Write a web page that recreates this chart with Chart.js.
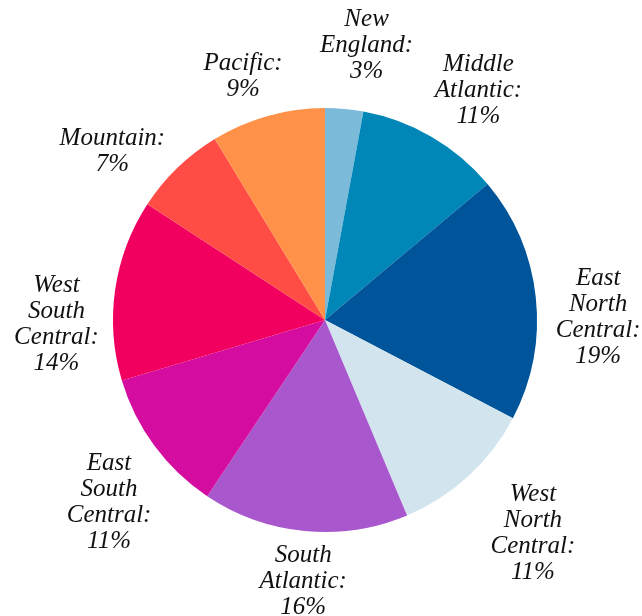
<!DOCTYPE html>
<html>
<head>
<meta charset="utf-8">
<script src="https://cdn.jsdelivr.net/npm/chart.js@4/dist/chart.umd.min.js"></script>
<style>
  html, body { margin: 0; padding: 0; background: #fff; }
  #wrap { width: 642px; height: 616px; }
</style>
</head>
<body>
<div id="wrap"><canvas id="pieChart" width="642" height="616"></canvas></div>
<script>
// census divisions, clockwise from 12 o'clock
const divisions = ["New England", "Middle Atlantic", "East North Central", "West North Central",
  "South Atlantic", "East South Central", "West South Central", "Mountain", "Pacific"];
const shares = [2.9, 11.0, 18.75, 11.0, 15.7, 11.0, 13.8, 7.1, 8.7];
const sliceColors = ["#7bbad8", "#0087b7", "#005499", "#d2e5ef", "#a957cd",
  "#d40ca0", "#f20060", "#ff4c44", "#ff9149"];

// hand-tuned label nudges (px) on top of the automatic placement
const labelNudge = [[17, -6], [11, 15], [0, 27], [9, -3], [4, -7], [19, 9], [5, 44], [-16, 34], [-11, 9]];

const labelFont = "italic 25px 'Liberation Serif', 'Times New Roman', serif";
const lineHeight = 26;

const outsideLabels = {
  id: "outsideLabels",
  afterDraw(chart) {
    const ctx = chart.ctx;
    const meta = chart.getDatasetMeta(0);
    const total = shares.reduce((a, b) => a + b, 0);
    ctx.save();
    ctx.font = labelFont;
    ctx.fillStyle = "#111";
    ctx.textAlign = "center";
    ctx.textBaseline = "middle";
    meta.data.forEach((arc, i) => {
      const words = divisions[i].split(" ");
      words[words.length - 1] += ":";
      const lines = words.concat([Math.round(shares[i] / total * 100) + "%"]);
      const w = Math.max(...lines.map(l => ctx.measureText(l).width));
      const h = lines.length * lineHeight;
      const mid = (arc.startAngle + arc.endAngle) / 2;
      const sx = Math.cos(mid), sy = Math.sin(mid);
      const extent = Math.abs(sx) * w / 2 + Math.abs(sy) * h / 2;
      const d = arc.outerRadius + 15 + extent;
      const cx = arc.x + sx * d + labelNudge[i][0];
      const cy = arc.y + sy * d + labelNudge[i][1];
      lines.forEach((l, k) => {
        ctx.fillText(l, cx, cy - h / 2 + lineHeight * (k + 0.5));
      });
    });
    ctx.restore();
  }
};

new Chart(document.getElementById("pieChart").getContext("2d"), {
  type: "pie",
  data: {
    labels: divisions,
    datasets: [{
      data: shares,
      backgroundColor: sliceColors,
      borderWidth: 0
    }]
  },
  options: {
    responsive: false,
    animation: false,
    layout: { padding: { left: 113, right: 105, top: 108, bottom: 84 } },
    plugins: {
      legend: { display: false },
      tooltip: { enabled: false }
    }
  },
  plugins: [outsideLabels]
});
</script>
</body>
</html>
